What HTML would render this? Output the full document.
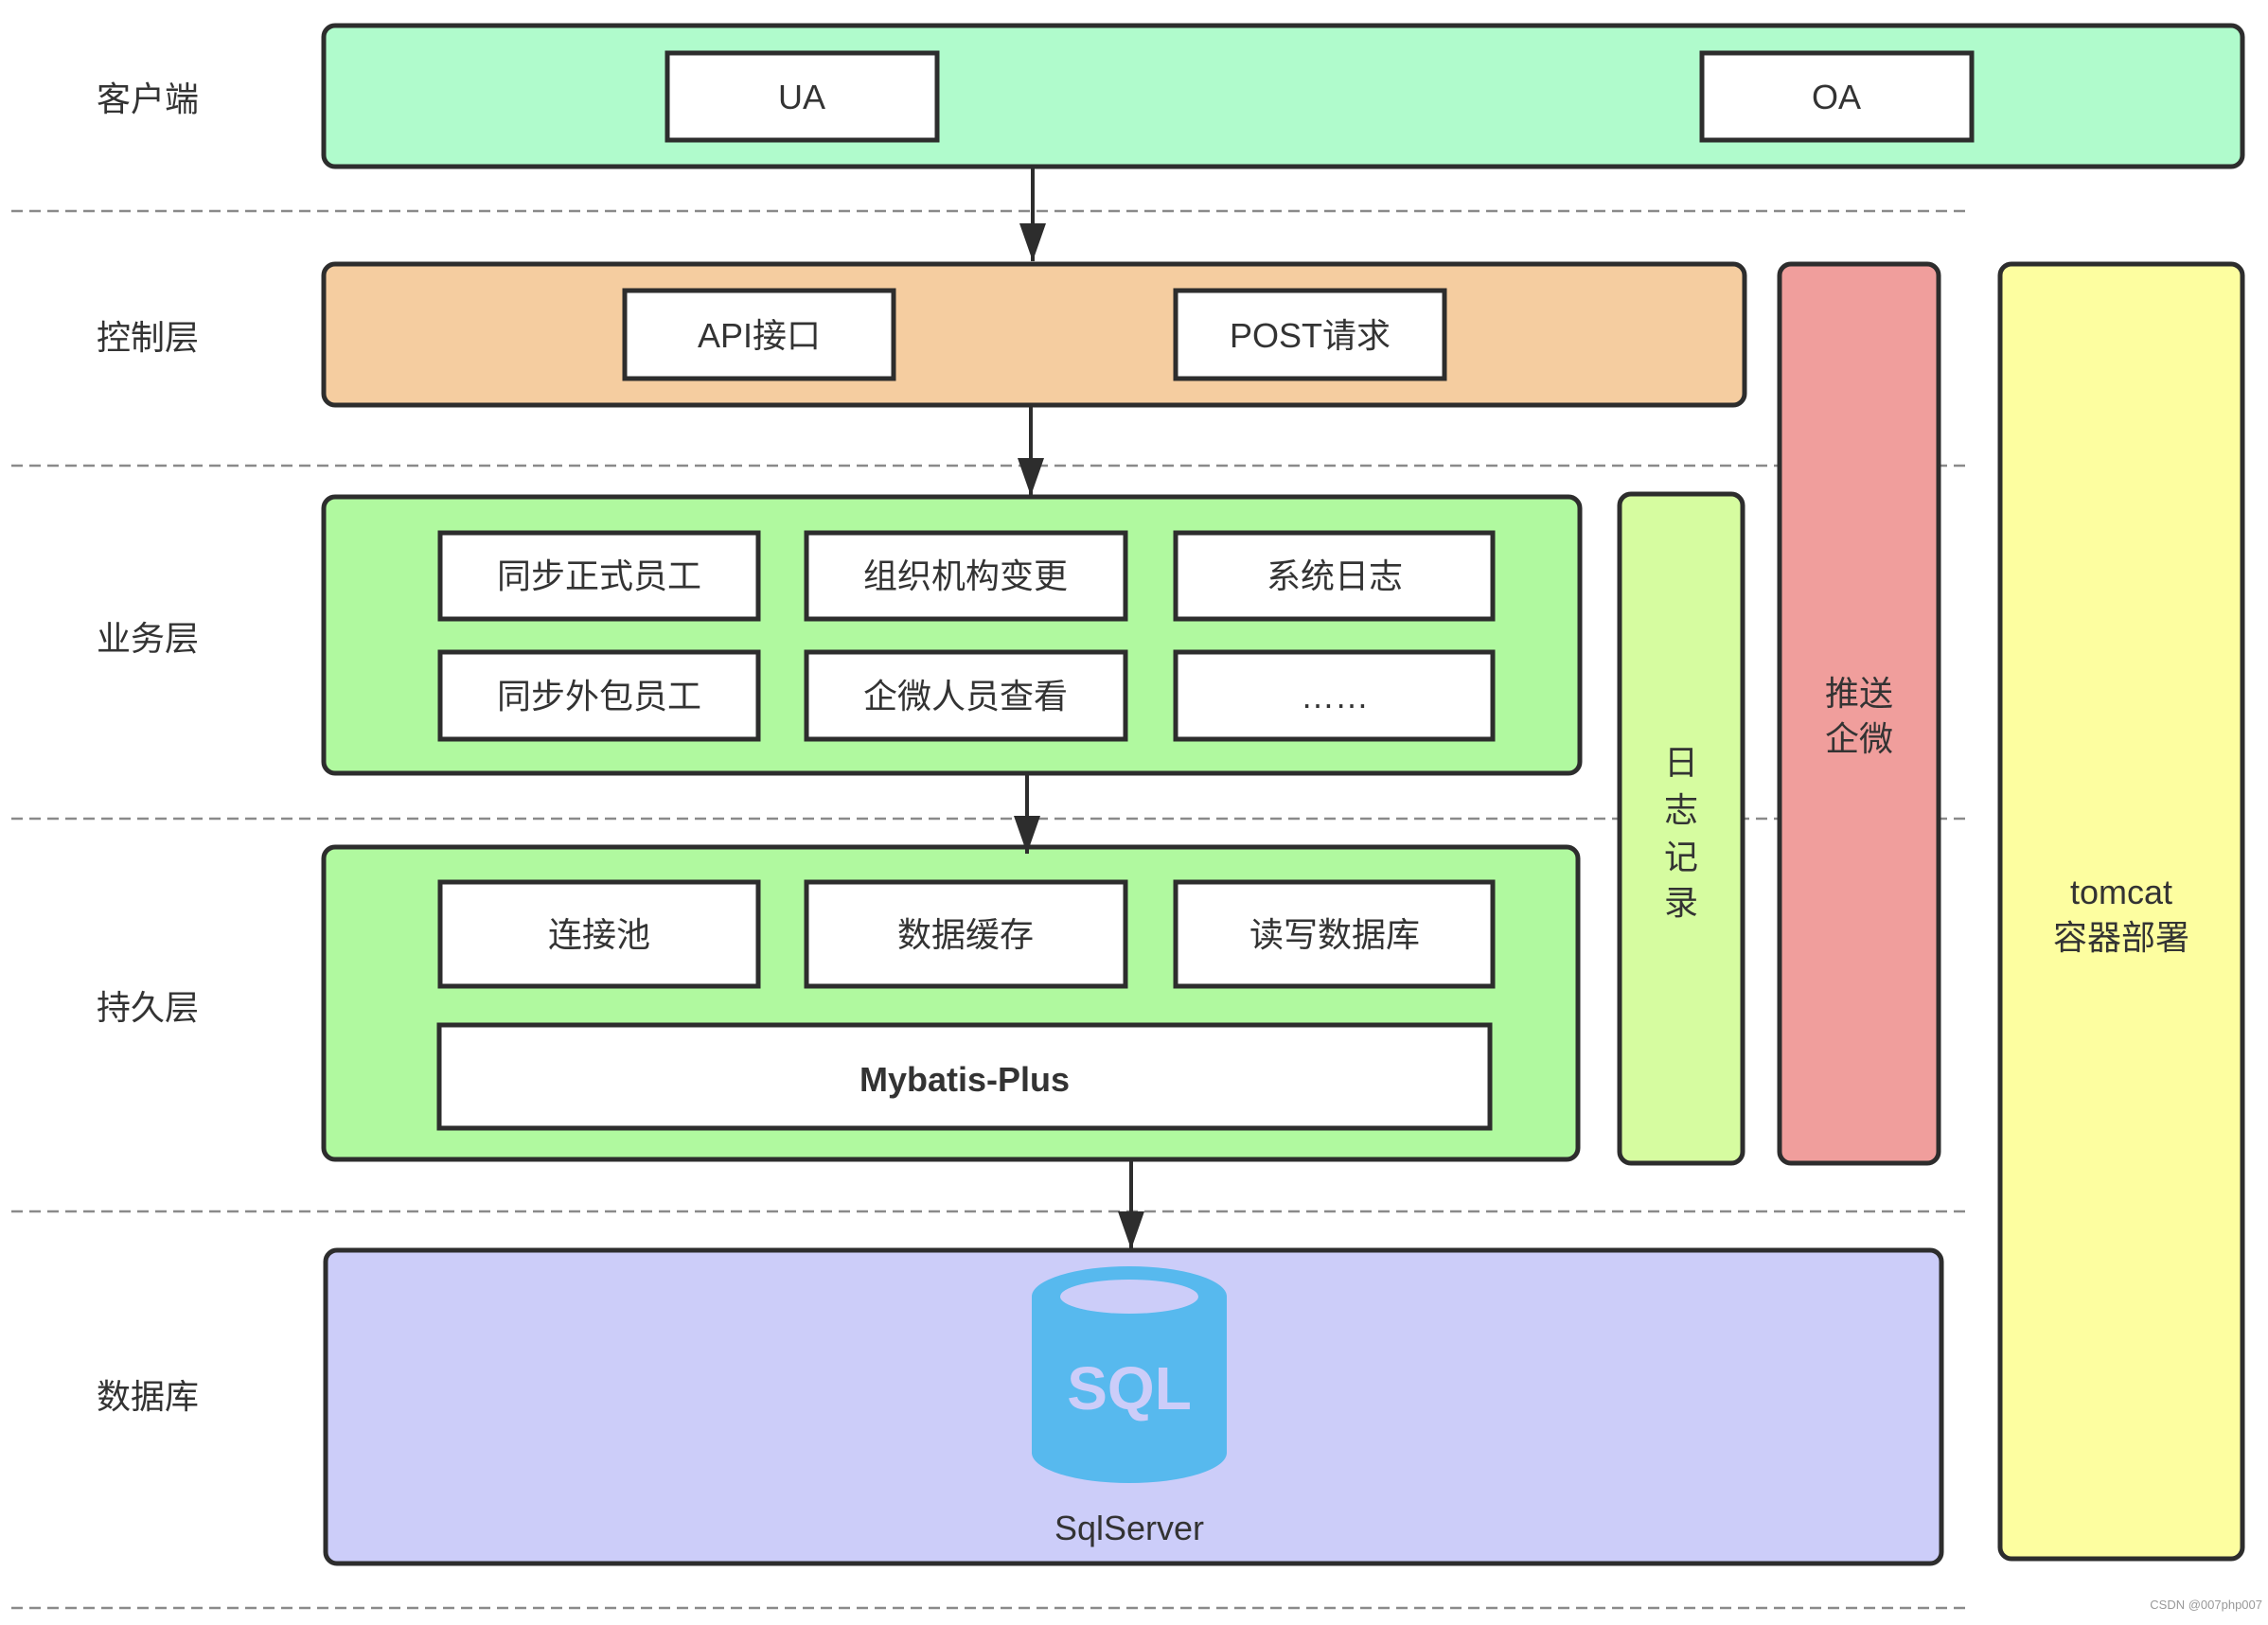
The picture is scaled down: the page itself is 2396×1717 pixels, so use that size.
<!DOCTYPE html>
<html><head><meta charset="utf-8"><style>
html,body{margin:0;padding:0;background:#fff;}
svg text{font-family:"Liberation Sans","Noto Sans CJK SC",sans-serif;fill:#333;}
</style></head><body>
<svg width="2396" height="1712" viewBox="0 0 2396 1712" xmlns="http://www.w3.org/2000/svg">
<defs><marker id="a" markerWidth="40" markerHeight="28" refX="40" refY="14" orient="auto" markerUnits="userSpaceOnUse"><path d="M0,0 L40,14 L0,28 z" fill="#2d2d2d"/></marker></defs>
<g stroke="#8a8a8a" stroke-width="2.5" stroke-dasharray="12,7">
<line x1="12" y1="223" x2="2083" y2="223"/>
<line x1="12" y1="492" x2="2083" y2="492"/>
<line x1="12" y1="865" x2="2083" y2="865"/>
<line x1="12" y1="1280" x2="2083" y2="1280"/>
<line x1="12" y1="1699" x2="2083" y2="1699"/>
</g>
<g font-size="36" fill="#333">
<text x="102" y="117">客户端</text>
<text x="102" y="369">控制层</text>
<text x="102" y="687">业务层</text>
<text x="102" y="1077">持久层</text>
<text x="102" y="1488">数据库</text>
</g>
<g stroke="#2d2d2d" stroke-width="5">
<rect x="342" y="27" width="2027" height="149" rx="12" fill="#b0fbcc"/>
<rect x="342" y="279" width="1501" height="149" rx="12" fill="#f5cda0"/>
<rect x="1880" y="279" width="168" height="950" rx="12" fill="#f09e9c"/>
<rect x="2113" y="279" width="256" height="1368" rx="12" fill="#fdfea0"/>
<rect x="342" y="525" width="1327" height="292" rx="12" fill="#b0f99f"/>
<rect x="1711" y="522" width="130" height="707" rx="12" fill="#d6fca0"/>
<rect x="342" y="895" width="1325" height="330" rx="12" fill="#b0f99f"/>
<rect x="344" y="1321" width="1707" height="331" rx="12" fill="#cccdf9"/>
</g>
<g stroke="#2d2d2d" stroke-width="5" fill="#fff">
<rect x="705" y="56" width="285" height="92"/>
<rect x="1798" y="56" width="285" height="92"/>
<rect x="660" y="307" width="284" height="93"/>
<rect x="1242" y="307" width="284" height="93"/>
<rect x="465" y="563" width="336" height="91"/>
<rect x="852" y="563" width="337" height="91"/>
<rect x="1242" y="563" width="335" height="91"/>
<rect x="465" y="689" width="336" height="92"/>
<rect x="852" y="689" width="337" height="92"/>
<rect x="1242" y="689" width="335" height="92"/>
<rect x="465" y="932" width="336" height="110"/>
<rect x="852" y="932" width="337" height="110"/>
<rect x="1242" y="932" width="335" height="110"/>
<rect x="464" y="1083" width="1110" height="109"/>
</g>
<g font-size="36" text-anchor="middle">
<text x="847" y="115">UA</text>
<text x="1940" y="115">OA</text>
<text x="802" y="367">API接口</text>
<text x="1384" y="367">POST请求</text>
<text x="633" y="621">同步正式员工</text>
<text x="1020" y="621">组织机构变更</text>
<text x="1410" y="621">系统日志</text>
<text x="633" y="748">同步外包员工</text>
<text x="1020" y="748">企微人员查看</text>
<text x="1410" y="748">……</text>
<text x="633" y="1000">连接池</text>
<text x="1020" y="1000">数据缓存</text>
<text x="1410" y="1000">读写数据库</text>
<text x="1019" y="1153" font-weight="bold">Mybatis-Plus</text>
<text x="1964" y="745">推送</text>
<text x="1964" y="793">企微</text>
<text x="2241" y="955">tomcat</text>
<text x="2241" y="1003">容器部署</text>
<text x="1776" y="818">日</text>
<text x="1776" y="868">志</text>
<text x="1776" y="918">记</text>
<text x="1776" y="966">录</text>
<text x="1193" y="1627">SqlServer</text>
</g>
<g stroke="#2d2d2d" stroke-width="4" marker-end="url(#a)">
<line x1="1091" y1="178" x2="1091" y2="276"/>
<line x1="1089" y1="430" x2="1089" y2="524"/>
<line x1="1085" y1="819" x2="1085" y2="902"/>
<line x1="1195" y1="1227" x2="1195" y2="1320"/>
</g>
<path d="M1090,1370 A103,32 0 0 1 1296,1370 L1296,1535 A103,32 0 0 1 1090,1535 Z" fill="#57b9ee"/>
<ellipse cx="1193" cy="1370" rx="73" ry="18" fill="#cccdf9"/>
<text x="1193" y="1489" font-size="64" font-weight="bold" text-anchor="middle" style="fill:#cccdf9">SQL</text>
<text x="2390" y="1700" font-size="13" text-anchor="end" style="fill:#999">CSDN @007php007</text>
</svg>
</body></html>
